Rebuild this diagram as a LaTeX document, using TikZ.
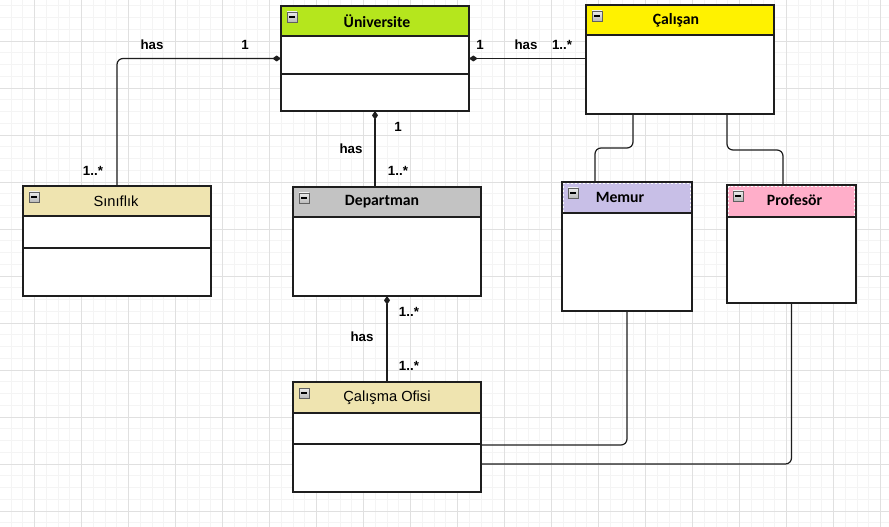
\documentclass[tikz,border=0pt]{standalone}
\usepackage{fontspec}
\setmainfont{Liberation Sans}
\newfontfamily\hdrfont{Carlito}
\usetikzlibrary{arrows.meta,calc}
\definecolor{gridminor}{HTML}{F4F4F4}
\definecolor{gridmajor}{HTML}{E0E0E0}
\definecolor{unigreen}{HTML}{B5E61D}
\definecolor{calyellow}{HTML}{FFF200}
\definecolor{memlav}{HTML}{C8BFE7}
\definecolor{propink}{HTML}{FFAEC9}
\definecolor{khaki}{HTML}{EFE4B0}
\definecolor{depgray}{HTML}{C3C3C3}
\definecolor{linecol}{HTML}{1E1E1E}
\tikzset{
  frame/.style={draw=linecol, line width=1pt},
  conn/.style={draw=linecol, line width=0.9pt, rounded corners=4.5pt},
  dtip/.style={{Diamond[length=6.5pt,width=4.5pt]}-},
  lbl/.style={font=\bfseries\fontsize{10}{12}\selectfont, inner sep=0pt},
  hdrb/.style={font=\hdrfont\bfseries\fontsize{11.8}{14}\selectfont, inner sep=0pt},
  hdrr/.style={font=\fontsize{11}{13}\selectfont, inner sep=0pt},
  icon/.style={draw=gray!75!black, line width=0.4pt, top color=gray!15, bottom color=gray!55},
}
% name, x1, y1, x2, y2, header bottom, colour
\newcommand{\classbox}[7]{%
  \pgfmathsetmacro\bw{(#4-#2)*0.75}%
  \pgfmathsetmacro\bh{(#5-#3)*0.75}%
  \node[fill=white, inner sep=0pt, outer sep=0pt, minimum width=\bw pt, minimum height=\bh pt, anchor=north west] (#1) at (#2,#3) {};
  \fill[#7] (#2,#3) rectangle (#4,#6);
  \draw[frame] (#2,#6) -- (#4,#6);
  \draw[icon] ($(#2,#3)+(6,6)$) rectangle ++(10,10);
  \draw[line width=0.9pt, black] ($(#2,#3)+(8.3,11)$) -- ++(5.4,0);
}
\begin{document}
\begin{tikzpicture}[x=0.75pt,y=-0.75pt]
\useasboundingbox (0,0) rectangle (889,527);
\fill[white] (0,0) rectangle (889,527);
% grid
\foreach \i in {0,...,78} {\draw[gridminor, line width=0.6pt] ({-12.5+11.75*\i},0) -- ++(0,527);}
\foreach \i in {0,...,46} {\draw[gridminor, line width=0.6pt] (0,{-6+11.75*\i}) -- ++(889,0);}
\foreach \i in {0,...,19} {\draw[gridmajor, line width=0.7pt] ({-12.5+47*\i},0) -- ++(0,527);}
\foreach \i in {0,...,11} {\draw[gridmajor, line width=0.7pt] (0,{-6+47*\i}) -- ++(889,0);}

% classes
\classbox{uni}{281}{6}{469}{111}{36}{unigreen}
\draw[frame] (281,74) -- (469,74);
\classbox{cal}{586}{5}{774}{114}{35}{calyellow}
\classbox{sin}{23}{186}{211}{296}{216}{khaki}
\draw[frame] (23,248) -- (211,248);
\classbox{dep}{293}{187}{481}{296}{217}{depgray}
\classbox{mem}{562}{182}{692}{311}{213}{memlav}
\classbox{pro}{727}{185}{856}{303}{217}{propink}
\classbox{ofi}{293}{382}{481}{492}{413}{khaki}
\draw[frame] (293,444) -- (481,444);

% dashed white header edges
\draw[white, line width=0.6pt, dash pattern=on 1.5pt off 1.5pt] (563.5,212) -- (563.5,183.5) -- (690.5,183.5) -- (690.5,212);
\draw[white, line width=0.6pt, dash pattern=on 1.5pt off 1.5pt] (728.5,216) -- (728.5,186.5) -- (854.5,186.5) -- (854.5,216);

% frames
\foreach \n in {uni,cal,sin,dep,mem,pro,ofi} {\draw[frame] (\n.north west) rectangle (\n.south east);}

% header texts
\node[hdrb] (tuni) at (377,21) {Üniversite};
\node[hdrb] (tcal) at (676,20) {Çalışan};
\node[hdrr] (tsin) at (116,201) {Sınıflık};
\node[hdrb] (tdep) at (382,202) {Departman};
\node[hdrb] (tmem) at (620,197.5) {Memur};
\node[hdrb] (tpro) at (794.5,200) {Profesör};
\node[hdrr] (tofi) at (387,398) {Çalışma Ofisi};

% connectors
\draw[conn, dtip] (uni.west) -| (sin.north);
\draw[conn, dtip] (uni.east) -- (cal.west |- uni.east);
\draw[conn, dtip] (uni.south) -- (uni.south |- dep.north);
\draw[conn, dtip] (dep.south) -- (ofi.north);
\coordinate (cm) at ($(cal.south west)+(47,0)$);
\coordinate (cp) at ($(cal.south west)+(141,0)$);
\coordinate (mt) at ($(mem.north west)+(33,0)$);
\coordinate (pt) at ($(pro.north west)+(56,0)$);
\draw[conn] (cm) -- (cm |- 0,148) -| (mt);
\draw[conn] (cp) -- (cp |- 0,150) -| (pt);
\draw[conn] (mem.south) |- (ofi.east |- 0,445);
\draw[conn] (pro.south) |- (ofi.east |- 0,464);

% labels
\node[lbl] (l1) at (152,45) {has};
\node[lbl] (l2) at (245,45) {1};
\node[lbl] (l3) at (93,171) {1..*};
\node[lbl] (l4) at (480,45) {1};
\node[lbl] (l5) at (526,45) {has};
\node[lbl] (l6) at (562,45) {1..*};
\node[lbl] (l7) at (398,127) {1};
\node[lbl] (l8) at (351,149) {has};
\node[lbl] (l9) at (398,171) {1..*};
\node[lbl] (l10) at (409,312) {1..*};
\node[lbl] (l11) at (362,337) {has};
\node[lbl] (l12) at (409,366) {1..*};
\end{tikzpicture}
\end{document}
